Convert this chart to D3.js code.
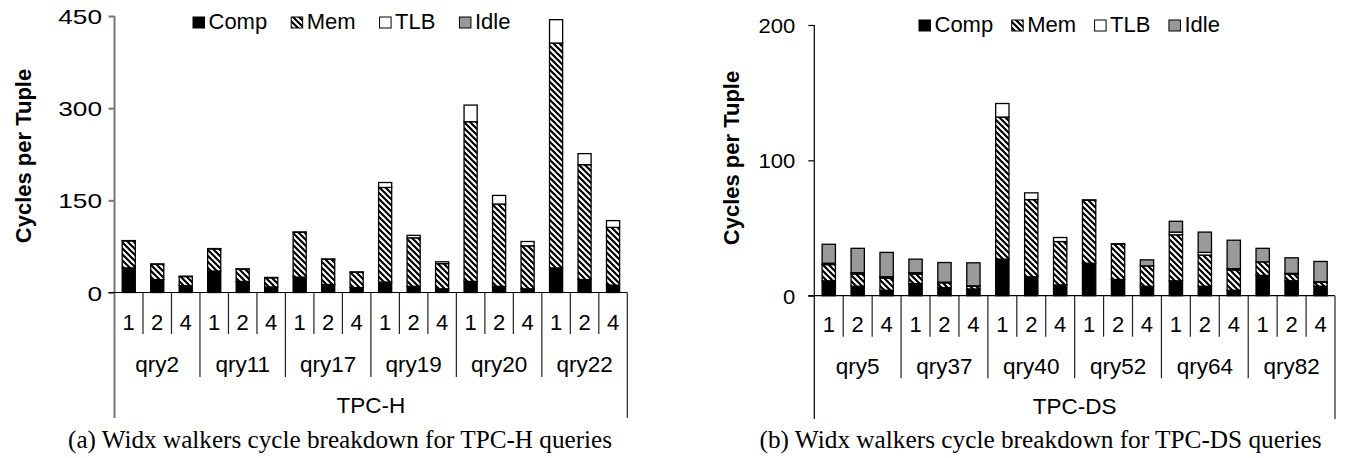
<!DOCTYPE html>
<html>
<head>
<meta charset="utf-8">
<script src="https://cdn.jsdelivr.net/npm/d3@7"></script>
<style>
  body { margin: 0; background: #fff; }
  svg { display: block; }
  text { font-family: "Liberation Sans", Arial, sans-serif; fill: #000; }
  .caption { font-family: "Liberation Serif", "DejaVu Serif", serif; }
</style>
</head>
<body>
<svg id="chart" width="1345" height="458"></svg>
<script>
// --- data
const segments = ['Comp', 'Mem', 'TLB', 'Idle']
const walkers = ['1', '2', '4']

const tpchQueries = ['qry2', 'qry11', 'qry17', 'qry19', 'qry20', 'qry22']
const tpchComp = [40, 21, 11, 35, 18, 9, 25, 13, 8, 17, 10, 6, 18, 10, 6, 40, 21, 12]
const tpchMem = [44, 25, 15, 36, 20, 15, 73, 41, 25, 154, 79, 41, 260, 134, 70, 366, 187, 94]
const tpchTLB = [0.5, 0.5, 0.5, 0.5, 0.5, 0.5, 0.5, 0.5, 0.5, 8, 4, 3, 27, 14, 7, 38, 18, 11]
const tpchIdle = [0, 0, 0, 0, 0, 0, 0, 0, 0, 0, 0, 0, 0, 0, 0, 0, 0, 0]
const tpchTicks = [0, 150, 300, 450]

const tpcdsQueries = ['qry5', 'qry37', 'qry40', 'qry52', 'qry64', 'qry82']
const tpcdsComp = [11, 7, 4, 9, 6, 5, 27, 14, 8, 24, 12, 7, 11, 7, 4, 15, 11, 7]
const tpcdsMem = [12, 9, 9, 7, 3.5, 2, 105, 57, 32, 46.5, 26, 15, 34, 23, 15, 10, 5, 3]
const tpcdsTLB = [1, 1, 1, 1, 0.5, 0.3, 10, 5, 3, 0.3, 0.4, 0, 2, 2, 1, 0, 0.5, 0.3]
const tpcdsIdle = [14, 18, 18, 10, 14.5, 17, 0, 0, 0, 0, 0, 4.5, 8, 15, 21, 10, 11.5, 15]
const tpcdsTicks = [0, 100, 200]

const svg = d3.select('#chart')

// diagonal hatch used for the Mem segments
const pat = svg.append('defs').append('pattern')
  .attr('id', 'hatch')
  .attr('patternUnits', 'userSpaceOnUse')
  .attr('width', 6)
  .attr('height', 6)
pat.append('rect').attr('width', 6).attr('height', 6).attr('fill', '#fff')
pat.append('path')
  .attr('d', 'M-1,5 l2,2 M0,0 l6,6 M5,-1 l2,2')
  .attr('stroke', '#000')
  .attr('stroke-width', 2.2)

const fills = {Comp: '#000', Mem: 'url(#hatch)', TLB: '#fff', Idle: '#999'}

const panels = [
  {
    queries: tpchQueries, series: [tpchComp, tpchMem, tpchTLB, tpchIdle], ticks: tpchTicks,
    suite: 'TPC-H', caption: '(a) Widx walkers cycle breakdown for TPC-H queries',
    left: 114.5, right: 627.3, bottom: 292.5, top: 16,
    tickOffset: 12.5, tickStretch: 1.25, axisColor: '#777', axisWidth: 2,
    legendX: 193, legendY: 17, legendGap: 24,
    labelX: 23.5, labelY: 156,
    rows: [334, 377, 418], textRows: [329.5, 372, 413],
    capX: 340, capW: 544
  },
  {
    queries: tpcdsQueries, series: [tpcdsComp, tpcdsMem, tpcdsTLB, tpcdsIdle], ticks: tpcdsTicks,
    suite: 'TPC-DS', caption: '(b) Widx walkers cycle breakdown for TPC-DS queries',
    left: 814.3, right: 1335, bottom: 295.7, top: 25,
    tickOffset: 19, tickStretch: 1.05, axisColor: '#000', axisWidth: 1.2,
    legendX: 919, legendY: 20, legendGap: 18.5,
    labelX: 731.7, labelY: 158,
    rows: [336.7, 378.3, 419], textRows: [331.5, 374, 413.5],
    capX: 1040.5, capW: 562
  }
]

panels.forEach(p => {
  const g = svg.append('g')

  const x0 = d3.scaleBand().domain(p.queries).range([p.left, p.right])
  const x1 = d3.scaleBand().domain(walkers).range([0, x0.bandwidth()])
    .paddingInner(0.54).paddingOuter(0.27)
  const y = d3.scaleLinear().domain([0, d3.max(p.ticks)]).range([p.bottom, p.top])

  // one row per bar, stacked on the four segments
  const rows = []
  p.queries.forEach((q, qi) => walkers.forEach((w, wi) => {
    const r = {q, w}
    segments.forEach((s, si) => { r[s] = p.series[si][qi * 3 + wi] })
    rows.push(r)
  }))
  const stacked = d3.stack().keys(segments)(rows)

  // bars
  g.append('g').selectAll('g')
    .data(stacked)
    .join('g')
    .attr('fill', d => fills[d.key])
    .selectAll('rect')
    .data(d => d.filter(v => v[1] - v[0] > 0))
    .join('rect')
    .attr('x', d => x0(d.data.q) + x1(d.data.w))
    .attr('width', x1.bandwidth())
    .attr('y', d => y(d[1]))
    .attr('height', d => y(d[0]) - y(d[1]))
    .attr('stroke', '#000')
    .attr('stroke-width', 1.3)

  // y axis
  const yAxis = g.append('g')
    .attr('transform', `translate(${p.left},0)`)
    .call(d3.axisLeft(y).tickValues(p.ticks).tickSize(6).tickSizeOuter(0))
  yAxis.select('.domain').remove()
  yAxis.selectAll('.tick line').attr('stroke', p.axisColor).attr('stroke-width', p.axisWidth)
  yAxis.selectAll('.tick text')
    .attr('x', -p.tickOffset / p.tickStretch)
    .attr('dy', '0.36em')
    .attr('transform', `scale(${p.tickStretch},1)`)
    .style('font-size', '21px')
    .style('font-family', '"Liberation Sans", Arial, sans-serif')
  g.append('line')
    .attr('x1', p.left).attr('x2', p.left)
    .attr('y1', y(d3.max(p.ticks))).attr('y2', p.rows[2])
    .attr('stroke', p.axisColor).attr('stroke-width', p.axisWidth)

  // baseline
  g.append('line')
    .attr('x1', p.left - 6).attr('x2', p.right)
    .attr('y1', p.bottom).attr('y2', p.bottom)
    .attr('stroke', '#000').attr('stroke-width', 1.2)

  // multi-level category axis: separators
  const step = x0.bandwidth() / walkers.length
  const bounds = d3.range(walkers.length * p.queries.length + 1)
  g.append('g').selectAll('line')
    .data(bounds.slice(1))
    .join('line')
    .attr('x1', i => p.left + i * step)
    .attr('x2', i => p.left + i * step)
    .attr('y1', p.bottom)
    .attr('y2', i => i === bounds.length - 1 ? p.rows[2] : (i % walkers.length === 0 ? p.rows[1] : p.rows[0]))
    .attr('stroke', '#222')
    .attr('stroke-width', 1.2)

  // walker numbers
  g.append('g').selectAll('text')
    .data(rows)
    .join('text')
    .attr('x', d => x0(d.q) + x0.bandwidth() * (walkers.indexOf(d.w) + 0.5) / walkers.length)
    .attr('y', p.textRows[0])
    .attr('text-anchor', 'middle')
    .style('font-size', '22px')
    .text(d => d.w)

  // query names
  g.append('g').selectAll('text')
    .data(p.queries)
    .join('text')
    .attr('x', d => x0(d) + x0.bandwidth() / 2)
    .attr('y', p.textRows[1])
    .attr('text-anchor', 'middle')
    .style('font-size', '22.5px')
    .text(d => d)

  g.append('text')
    .attr('x', (p.left + p.right) / 2)
    .attr('y', p.textRows[2])
    .attr('text-anchor', 'middle')
    .style('font-size', '22.5px')
    .text(p.suite)

  // y label
  g.append('text')
    .attr('transform', `translate(${p.labelX},${p.labelY}) rotate(-90)`)
    .attr('text-anchor', 'middle')
    .attr('dy', '0.35em')
    .style('font-size', '22px')
    .style('font-weight', 'bold')
    .text('Cycles per Tuple')

  // legend
  let lx = p.legendX
  segments.forEach(s => {
    g.append('rect')
      .attr('x', lx).attr('y', p.legendY)
      .attr('width', 11.5).attr('height', 11)
      .attr('fill', fills[s])
      .attr('stroke', '#000').attr('stroke-width', 1)
    const t = g.append('text')
      .attr('x', lx + 15.5).attr('y', p.legendY + 12)
      .style('font-size', '22px')
      .text(s)
    lx += 15.5 + t.node().getComputedTextLength() + p.legendGap
  })

  // caption
  g.append('text')
    .attr('class', 'caption')
    .attr('x', p.capX)
    .attr('y', 448)
    .attr('text-anchor', 'middle')
    .attr('textLength', p.capW)
    .attr('lengthAdjust', 'spacingAndGlyphs')
    .style('font-size', '25px')
    .style('font-family', '"Liberation Serif", "DejaVu Serif", serif')
    .text(p.caption)
})
</script>
</body>
</html>
